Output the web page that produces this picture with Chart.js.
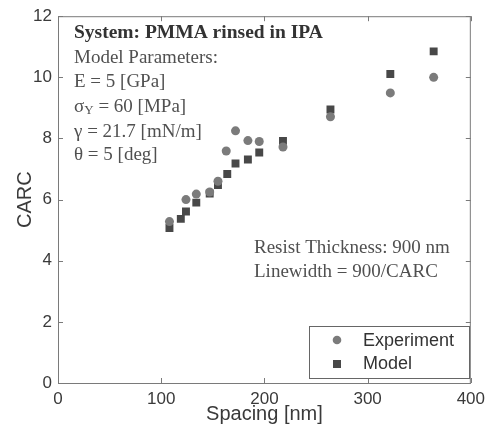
<!DOCTYPE html>
<html><head><meta charset="utf-8">
<script src="https://cdn.jsdelivr.net/npm/chart.js@4/dist/chart.umd.min.js"></script>
<style>html,body{margin:0;padding:0;background:#fff;}canvas{display:block;}</style>
</head><body>
<canvas id="c" width="491" height="437"></canvas>
<script>
const expSpacing = [108, 124, 134, 147, 155, 163, 172, 184, 195, 218, 264, 322, 364];
const expCARC    = [5.28, 6.0, 6.18, 6.25, 6.6, 7.59, 8.25, 7.93, 7.90, 7.72, 8.71, 9.49, 10.0];
const modSpacing = [108, 119, 124, 134, 147, 155, 164, 172, 184, 195, 218, 264, 322, 364];
const modCARC    = [5.07, 5.37, 5.61, 5.90, 6.2, 6.48, 6.84, 7.18, 7.31, 7.54, 7.92, 8.95, 10.11, 10.85];
const xTicks = [0, 100, 200, 300, 400];
const yTicks = [0, 2, 4, 6, 8, 10, 12];
const seriesNames = ['Experiment', 'Model'];
const paramLines = ['Model Parameters:', 'E = 5 [GPa]', 'σY = 60 [MPa]', 'γ = 21.7 [mN/m]', 'θ = 5 [deg]'];
const titleLine = 'System: PMMA rinsed in IPA';
const noteLines = ['Resist Thickness: 900 nm', 'Linewidth = 900/CARC'];

const expColor = '#7b7b7b', modColor = '#484848';
const toPts = (xs, ys) => xs.map((x, i) => ({x, y: ys[i]}));

const overlay = {
  id: 'overlay',
  afterDraw(chart) {
    const {ctx, chartArea: a, scales: {x, y}} = chart;
    ctx.save();
    ctx.strokeStyle = '#7a7a7a'; ctx.lineWidth = 1;
    ctx.strokeRect(a.left + 0.5, a.top + 0.5, a.right - a.left - 1, a.bottom - a.top);
    const tl = 5;
    ctx.beginPath();
    xTicks.forEach(v => { const px = Math.round(x.getPixelForValue(v)) + 0.5;
      ctx.moveTo(px, a.bottom); ctx.lineTo(px, a.bottom - tl);
      ctx.moveTo(px, a.top); ctx.lineTo(px, a.top + tl); });
    yTicks.forEach(v => { const py = Math.round(y.getPixelForValue(v)) + 0.5;
      ctx.moveTo(a.left, py); ctx.lineTo(a.left + tl, py);
      ctx.moveTo(a.right, py); ctx.lineTo(a.right - tl, py); });
    ctx.stroke();
    ctx.textBaseline = 'middle'; ctx.textAlign = 'left';
    const tx = a.left + 16;
    const reg = '19px "Liberation Serif"';
    ctx.fillStyle = '#333';
    ctx.font = 'bold 19.5px "Liberation Serif"';
    ctx.fillText(titleLine, tx, 33);
    ctx.fillStyle = '#505050';
    ctx.font = reg;
    const ys = [58, 82, 107, 132, 155];
    paramLines.forEach((t, i) => {
      if (t.startsWith('σY')) {
        ctx.font = reg;
        ctx.fillText('σ', tx, ys[i]);
        let w = ctx.measureText('σ').width;
        ctx.font = '13px "Liberation Serif"';
        ctx.fillText('Y', tx + w, ys[i] + 4);
        w += ctx.measureText('Y').width;
        ctx.font = reg;
        ctx.fillText(t.slice(2), tx + w, ys[i]);
      } else {
        ctx.fillText(t, tx, ys[i]);
      }
    });
    ctx.fillText(noteLines[0], 254, 248);
    ctx.fillText(noteLines[1], 254, 272);
    ctx.fillStyle = '#fff';
    ctx.fillRect(309, 326, 160, 52);
    ctx.strokeStyle = '#666';
    ctx.strokeRect(309.5, 326.5, 160, 52);
    ctx.fillStyle = expColor;
    ctx.beginPath(); ctx.arc(337, 340, 4.3, 0, Math.PI * 2); ctx.fill();
    ctx.fillStyle = modColor;
    ctx.fillRect(333, 360, 8, 8);
    ctx.fillStyle = '#333';
    ctx.font = '18px "Liberation Sans"';
    ctx.fillText(seriesNames[0], 363, 341);
    ctx.fillText(seriesNames[1], 363, 364);
    ctx.restore();
  }
};

new Chart(document.getElementById('c'), {
  type: 'scatter',
  data: {
    datasets: [
      { label: seriesNames[0], data: toPts(expSpacing, expCARC), pointStyle: 'circle',
        pointRadius: 4.5, backgroundColor: expColor, borderColor: expColor, borderWidth: 0 },
      { label: seriesNames[1], data: toPts(modSpacing, modCARC), pointStyle: 'rect',
        pointRadius: 5.6, backgroundColor: modColor, borderColor: modColor, borderWidth: 0 }
    ]
  },
  options: {
    responsive: false, animation: false, devicePixelRatio: 1,
    layout: { padding: { top: 15, right: 15, left: 0, bottom: 0 } },
    plugins: { legend: { display: false }, tooltip: { enabled: false } },
    scales: {
      x: {
        type: 'linear', min: 0, max: 400,
        afterBuildTicks: s => { s.ticks = xTicks.map(v => ({value: v})); },
        afterFit: s => { s.height = 54; },
        grid: { display: false, tickLength: 0 }, border: { display: false },
        ticks: { color: '#3a3a3a', font: { family: 'Liberation Sans', size: 17 }, padding: 6, maxRotation: 0 },
        title: { display: true, text: 'Spacing [nm]', color: '#3a3a3a',
                 font: { family: 'Liberation Sans', size: 20 }, padding: { top: 0, bottom: 11 } }
      },
      y: {
        type: 'linear', min: 0, max: 12,
        afterBuildTicks: s => { s.ticks = yTicks.map(v => ({value: v})); },
        afterFit: s => { s.width = 58; },
        grid: { display: false, tickLength: 0 }, border: { display: false },
        ticks: { color: '#3a3a3a', font: { family: 'Liberation Sans', size: 17 }, padding: 6 },
        title: { display: true, text: 'CARC', color: '#3a3a3a',
                 font: { family: 'Liberation Sans', size: 20 }, padding: { top: 13, bottom: 0 } }
      }
    }
  },
  plugins: [overlay]
});
</script>
</body></html>
